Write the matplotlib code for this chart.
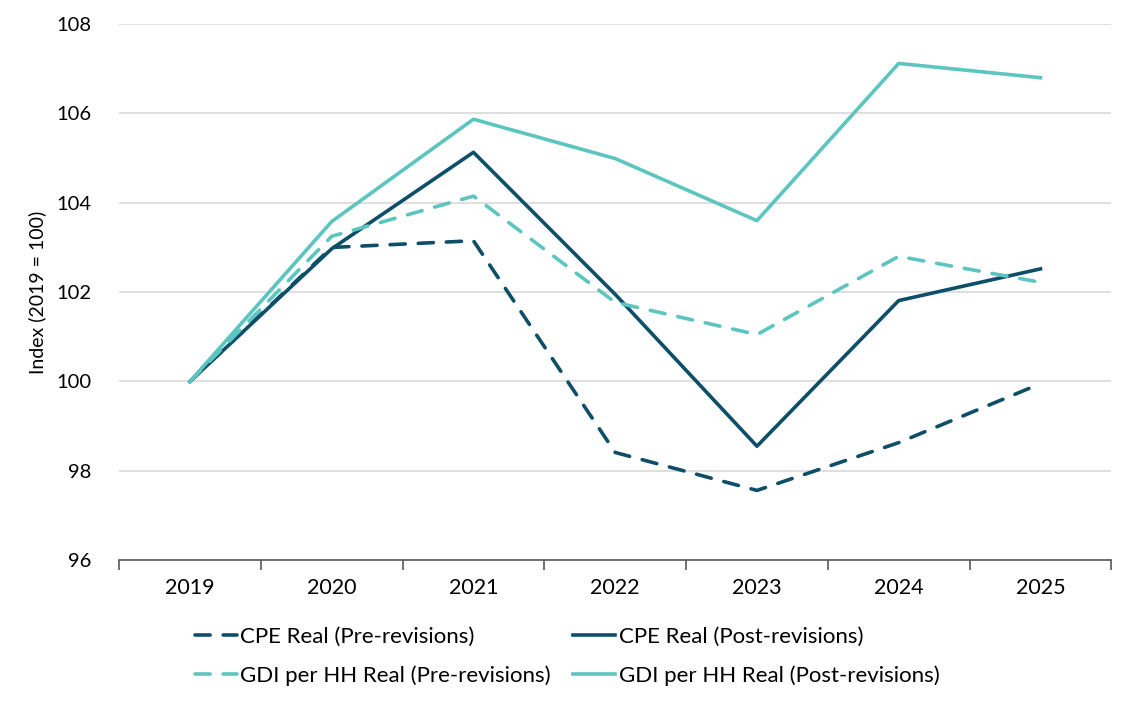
import matplotlib
matplotlib.use("Agg")
import matplotlib.pyplot as plt
from matplotlib.ticker import FixedLocator

plt.rcParams["font.family"] = ["Lato", "DejaVu Sans"]

years = ["2019", "2020", "2021", "2022", "2023", "2024", "2025"]
cpe_pre = [100.0, 103.0, 103.15, 98.41, 97.56, 98.63, 99.95]
cpe_post = [100.0, 102.97, 105.13, 101.95, 98.55, 101.81, 102.52]
gdi_pre = [100.0, 103.25, 104.15, 101.77, 101.05, 102.8, 102.22]
gdi_post = [100.0, 103.58, 105.87, 104.99, 103.6, 107.12, 106.8]

dark = "#0d4f69"
light = "#5cc5bf"

fig = plt.figure(figsize=(11.34, 7.09), dpi=100)
ax = fig.add_axes([0.105, 0.21, 0.875, 0.756])

xs = list(range(len(years)))
lw = 2.6
l1, = ax.plot(xs, cpe_pre, color=dark, lw=lw, dashes=(4.2, 3.6), dash_capstyle="round",
              label="CPE Real (Pre-revisions)")
l2, = ax.plot(xs, cpe_post, color=dark, lw=lw, label="CPE Real (Post-revisions)")
l3, = ax.plot(xs, gdi_pre, color=light, lw=lw, dashes=(4.2, 3.6), dash_capstyle="round",
              label="GDI per HH Real (Pre-revisions)")
l4, = ax.plot(xs, gdi_post, color=light, lw=lw, label="GDI per HH Real (Post-revisions)")

ax.set_xlim(-0.5, len(years) - 0.5)
ax.set_ylim(96, 108)
ax.set_yticks(range(96, 109, 2))
ax.grid(axis="y", color="#d9d9d9", lw=1.2)
ax.set_axisbelow(True)

ax.set_xticks(xs)
ax.set_xticklabels(years)
ax.xaxis.set_minor_locator(FixedLocator([x - 0.5 for x in range(len(years) + 1)]))
ax.tick_params(axis="x", which="major", length=0, pad=13, labelsize=15.5)
ax.tick_params(axis="x", which="minor", length=7, width=1.2, color="#595959", direction="out")
ax.tick_params(axis="y", length=0, pad=20, labelsize=14.5)

for s in ["top", "right", "left"]:
    ax.spines[s].set_visible(False)
ax.spines["bottom"].set_color("#595959")
ax.spines["bottom"].set_linewidth(1.2)

ax.set_ylabel("Index (2019 = 100)", fontsize=14, labelpad=7)

# column-wise fill: col 1 = pre, col 2 = post
fig.legend([l1, l3, l2, l4], [l.get_label() for l in (l1, l3, l2, l4)],
           loc="center", bbox_to_anchor=(0.5, 0.074), ncol=2,
           frameon=False, fontsize=16, handlelength=1.9, handletextpad=0.15,
           columnspacing=1.0, labelspacing=0.85)

fig.savefig("out.png", dpi=100)
